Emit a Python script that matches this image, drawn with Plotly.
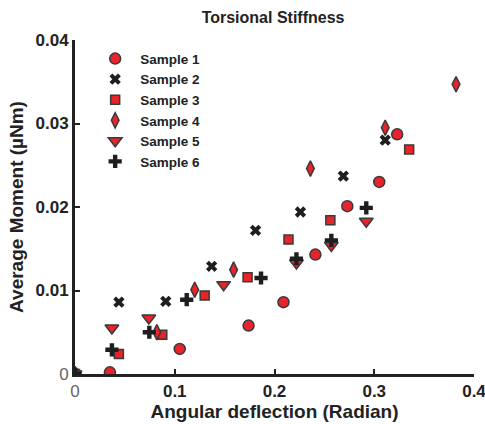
import plotly.graph_objects as go

FONT_FAMILY = 'Arial, Liberation Sans, sans-serif'
RED = '#e8232a'
EDGE = '#3a3a3a'
BLACK = '#1e1e1e'

SAMPLE_NAMES = ['Sample 1', 'Sample 2', 'Sample 3', 'Sample 4', 'Sample 5', 'Sample 6']

s1_x = [0, 0.035, 0.105, 0.174, 0.209, 0.241, 0.273, 0.305, 0.323]
s1_y = [0, 0.0002, 0.0030, 0.0058, 0.0086, 0.0143, 0.0201, 0.0230, 0.0287]

s2_x = [0, 0.044, 0.091, 0.137, 0.181, 0.226, 0.269, 0.311]
s2_y = [0, 0.0086, 0.0087, 0.0129, 0.0172, 0.0194, 0.0237, 0.0280]

s3_x = [0, 0.044, 0.0875, 0.130, 0.173, 0.214, 0.256, 0.335]
s3_y = [0, 0.0024, 0.0047, 0.0094, 0.0116, 0.0161, 0.0184, 0.0269]

s4_x = [0, 0.082, 0.120, 0.159, 0.236, 0.311, 0.382]
s4_y = [0, 0.0050, 0.0101, 0.0125, 0.0246, 0.0295, 0.0347]

s5_x = [0, 0.037, 0.074, 0.149, 0.222, 0.257, 0.292]
s5_y = [0, 0.0055, 0.0067, 0.0107, 0.0133, 0.0154, 0.0183]

s6_x = [0, 0.037, 0.0745, 0.112, 0.1865, 0.222, 0.257, 0.292]
s6_y = [0, 0.0029, 0.0050, 0.0089, 0.0115, 0.0138, 0.0160, 0.0199]

ZERO_LABEL = "<span style='color:#666'>0</span>"
X_TICKS = [0, 0.1, 0.2, 0.3, 0.4]
X_TICK_TEXT = [ZERO_LABEL, '<b>0.1</b>', '<b>0.2</b>', '<b>0.3</b>', '<b>0.4</b>']
Y_TICKS = [0, 0.01, 0.02, 0.03, 0.04]
Y_TICK_TEXT = [ZERO_LABEL, '<b>0.01</b>', '<b>0.02</b>', '<b>0.03</b>', '<b>0.04</b>']

red_marker = dict(color=RED, line=dict(color=EDGE, width=1.5))
styles = [
    dict(symbol='circle', size=11, **red_marker),
    dict(symbol='x', size=10, color=BLACK, line=dict(width=0)),
    dict(symbol='square', size=9, **red_marker),
    dict(symbol='diamond-tall', size=11, **red_marker),
    dict(symbol='triangle-down', size=12, **red_marker),
    dict(symbol='cross', size=11, color=BLACK, line=dict(width=0)),
]

series = [(s1_x, s1_y), (s2_x, s2_y), (s3_x, s3_y), (s4_x, s4_y), (s5_x, s5_y), (s6_x, s6_y)]

fig = go.Figure()
for name, (xs, ys), marker in zip(SAMPLE_NAMES, series, styles):
    fig.add_trace(go.Scatter(x=xs, y=ys, mode='markers', name=f'<b>{name}</b>', marker=marker))

axis_common = dict(showline=True,
                   linecolor='#222',
                   linewidth=3,
                   showgrid=False,
                   zeroline=False,
                   ticks='inside',
                   ticklen=5,
                   tickwidth=2,
                   tickcolor='#222',
                   tickfont=dict(family=FONT_FAMILY, size=17, color='#222'),
                   tickmode='array',
                   ticklabeloverflow='allow',
                   automargin=False,
                   mirror=False)

fig.update_xaxes(range=[0, 0.4], tickvals=X_TICKS, ticktext=X_TICK_TEXT,
                 title=dict(text='<b>Angular deflection (Radian)</b>',
                            font=dict(family=FONT_FAMILY, size=19, color='#222'),
                            standoff=0),
                 **axis_common)
fig.update_yaxes(range=[0, 0.04], tickvals=Y_TICKS, ticktext=Y_TICK_TEXT,
                 title=dict(text='<b>Average Moment (µNm)</b>',
                            font=dict(family=FONT_FAMILY, size=19, color='#222'),
                            standoff=7),
                 **axis_common)

fig.update_layout(
    width=485,
    height=424,
    margin=dict(l=75, r=11, t=40, b=50),
    plot_bgcolor='white',
    paper_bgcolor='white',
    title=dict(text='<b>Torsional Stiffness</b>', x=0.563, xanchor='center', y=0.96, yanchor='middle',
               font=dict(family=FONT_FAMILY, size=16, color='#222')),
    legend=dict(x=0.038, y=0.99, xanchor='left', yanchor='top',
                bgcolor='rgba(255,255,255,0)',
                font=dict(family=FONT_FAMILY, size=13.5, color='#222'),
                itemwidth=40, tracegroupgap=0),
    showlegend=True,
)

# page body has a default 8px margin; drop it so the figure sits at the window origin
fig.write_html('out.html', config={'displayModeBar': False},
               post_script="document.body.style.margin='0';")
